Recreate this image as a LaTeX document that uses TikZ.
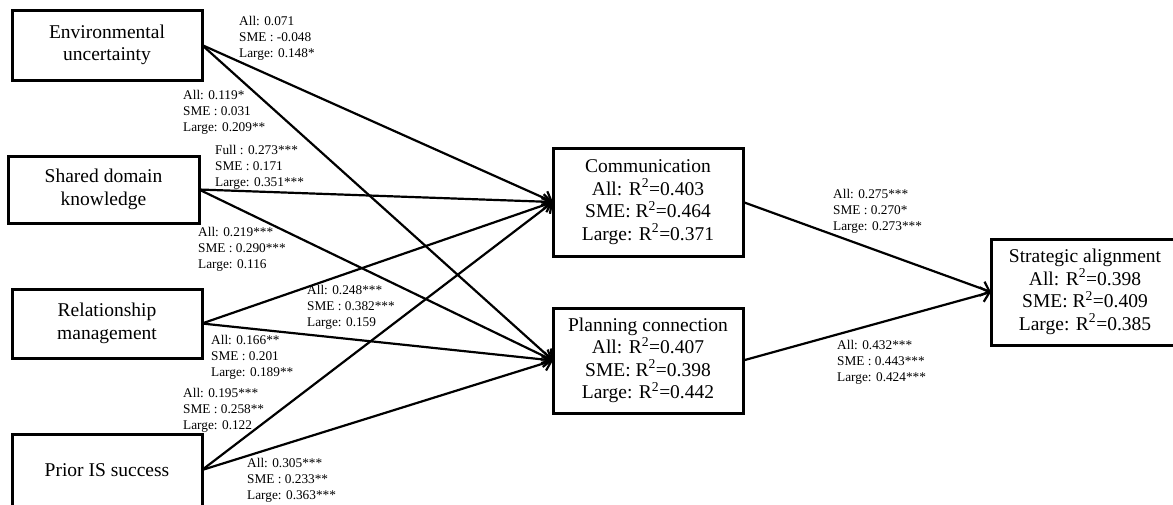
\documentclass[tikz,border=0pt]{standalone}
\usepackage{fontspec}
\setmainfont{Liberation Serif}
\usetikzlibrary{arrows.meta}
\begin{document}
\begin{tikzpicture}[x=1pt,y=-1pt,
 box/.style={draw, line width=3pt, inner sep=0pt, outer sep=0pt, align=center, font=\fontsize{19.5}{22.5}\selectfont},
 lbl/.style={anchor=west, inner sep=0pt, align=left, font=\fontsize{13.3}{16}\selectfont},
 arr/.style={line width=2.2pt, -{Straight Barb[length=8pt,width=15pt]}}]
\useasboundingbox (0,0) rectangle (1173,504);
\clip (0,0) rectangle (1173,504);
% boxes
\node[box, minimum width=190pt, minimum height=70pt] (env) at (107,45) {Environmental\\uncertainty};
\node[box, minimum width=191pt, minimum height=67pt] (shared) at (103.5,189.5) {Shared domain\\knowledge};
\node[box, minimum width=190pt, minimum height=69pt] (rel) at (107,323.5) {Relationship\\management};
\node[box, minimum width=190pt, minimum height=72pt] (prior) at (107,470) {Prior IS success};
\node[box, minimum width=190pt, minimum height=108pt] (comm) at (648,202) {Communication\\All: R\textsuperscript{2}=0.403\\SME: R\textsuperscript{2}=0.464\\Large: R\textsuperscript{2}=0.371};
\node[box, minimum width=190pt, minimum height=105pt] (plan) at (648,360.5) {Planning connection\\All: R\textsuperscript{2}=0.407\\SME: R\textsuperscript{2}=0.398\\Large: R\textsuperscript{2}=0.442};
\node[box, minimum width=188pt, minimum height=106pt] (strat) at (1085,292) {Strategic alignment\\All: R\textsuperscript{2}=0.398\\SME: R\textsuperscript{2}=0.409\\Large: R\textsuperscript{2}=0.385};
% connectors
\draw[arr] (env.east) -- (comm.west);
\draw[arr] (env.east) -- (plan.west);
\draw[arr] (shared.east) -- (comm.west);
\draw[arr] (shared.east) -- (plan.west);
\draw[arr] (rel.east) -- (comm.west);
\draw[arr] (rel.east) -- (plan.west);
\draw[arr] (prior.east) -- (comm.west);
\draw[arr] (prior.east) -- (plan.west);
\draw[arr] (comm.east) -- (strat.west);
\draw[arr] (plan.east) -- (strat.west);
% labels
\node[lbl] (l1) at (239,38) {All: 0.071\\SME : -0.048\\Large: 0.148*};
\node[lbl] (l2) at (183,112) {All: 0.119*\\SME : 0.031\\Large: 0.209**};
\node[lbl] (l3) at (215,167) {Full : 0.273***\\SME : 0.171\\Large: 0.351***};
\node[lbl] (l4) at (198,249) {All: 0.219***\\SME : 0.290***\\Large: 0.116};
\node[lbl] (l5) at (307,307) {All: 0.248***\\SME : 0.382***\\Large: 0.159};
\node[lbl] (l6) at (211,357) {All: 0.166**\\SME : 0.201\\Large: 0.189**};
\node[lbl] (l7) at (183,410) {All: 0.195***\\SME : 0.258**\\Large: 0.122};
\node[lbl] (l8) at (247,480) {All: 0.305***\\SME : 0.233**\\Large: 0.363***};
\node[lbl] (l9) at (833,211) {All: 0.275***\\SME : 0.270*\\Large: 0.273***};
\node[lbl] (l10) at (837,362) {All: 0.432***\\SME : 0.443***\\Large: 0.424***};
\end{tikzpicture}
\end{document}
